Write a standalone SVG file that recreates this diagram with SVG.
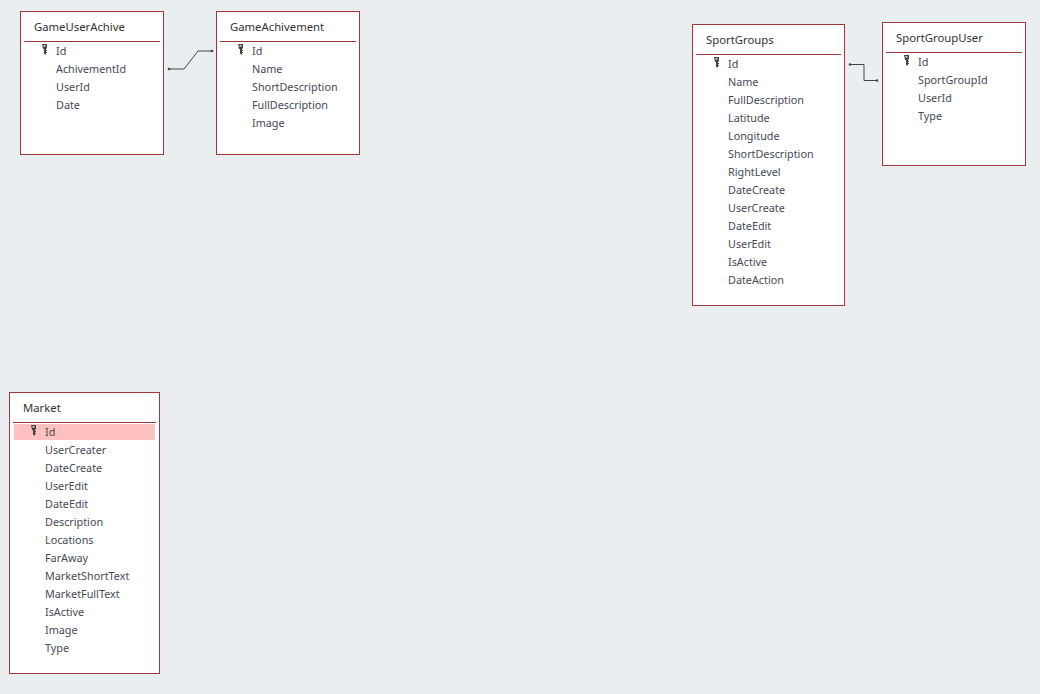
<svg xmlns="http://www.w3.org/2000/svg" width="1040" height="694" viewBox="0 0 1040 694">
<style>
.box{fill:#fff;stroke:#a4373a;stroke-width:1}
.sep{stroke:#a4373a;stroke-width:1;fill:none}
text{font-family:"Noto Sans","Open Sans","Liberation Sans",sans-serif;font-size:10.800px;fill:#444a55}
.title{font-size:11.300px;fill:#333}
.conn{fill:none;stroke:#444;stroke-width:1}
.dot{fill:#444}
</style>
<defs>
<g id="key"><path d="M-2.500 0h5v4.500h-1v1.500h1v1h-1v1h1v1h-1v1.500h-1l-1-1v-4.500h-1z" fill="#444"/><path d="M-1 1.200h2v1.300h-2z" fill="#fff"/></g>
</defs>
<rect width="1040" height="694" fill="#eaeef1"/>
<g id="connectors">
<path class="conn" d="M169 69H184L198 51H212"/><circle class="dot" cx="169" cy="69" r="1.300"/><circle class="dot" cx="212" cy="51" r="1.300"/>
<path class="conn" d="M850 64.500H864V80.500H877"/><circle class="dot" cx="850" cy="64.500" r="1.300"/><circle class="dot" cx="877" cy="80.500" r="1.300"/>
</g>
<g id="GameUserAchive">
<rect class="box" x="20.500" y="11.500" width="143" height="143"/><path class="sep" d="M24 41.500H160"/>
<text class="title" x="34" y="31">GameUserAchive</text>
<use href="#key" x="44.500" y="44"/>
<text x="56" y="55">Id</text><text x="56" y="73">AchivementId</text><text x="56" y="91">UserId</text><text x="56" y="109">Date</text>
</g>
<g id="GameAchivement">
<rect class="box" x="216.500" y="11.500" width="143" height="143"/><path class="sep" d="M220 41.500H356"/>
<text class="title" x="230" y="31">GameAchivement</text>
<use href="#key" x="240.500" y="44"/>
<text x="252" y="55">Id</text><text x="252" y="73">Name</text><text x="252" y="91">ShortDescription</text><text x="252" y="109">FullDescription</text><text x="252" y="127">Image</text>
</g>
<g id="SportGroups">
<rect class="box" x="692.500" y="24.500" width="152" height="281"/><path class="sep" d="M696 54.500H841"/>
<text class="title" x="706" y="44">SportGroups</text>
<use href="#key" x="716.500" y="57"/>
<text x="728" y="68">Id</text><text x="728" y="86">Name</text><text x="728" y="104">FullDescription</text><text x="728" y="122">Latitude</text><text x="728" y="140">Longitude</text><text x="728" y="158">ShortDescription</text><text x="728" y="176">RightLevel</text><text x="728" y="194">DateCreate</text><text x="728" y="212">UserCreate</text><text x="728" y="230">DateEdit</text><text x="728" y="248">UserEdit</text><text x="728" y="266">IsActive</text><text x="728" y="284">DateAction</text>
</g>
<g id="SportGroupUser">
<rect class="box" x="882.500" y="22.500" width="143" height="143"/><path class="sep" d="M886 52.500H1022"/>
<text class="title" x="896" y="42">SportGroupUser</text>
<use href="#key" x="906.500" y="55"/>
<text x="918" y="66">Id</text><text x="918" y="84">SportGroupId</text><text x="918" y="102">UserId</text><text x="918" y="120">Type</text>
</g>
<g id="Market">
<rect class="box" x="9.500" y="392.500" width="150" height="281"/><path class="sep" d="M13 422.500H156"/>
<rect x="14" y="424" width="141" height="16" fill="#ffc0c0"/>
<text class="title" x="23" y="412">Market</text>
<use href="#key" x="33.500" y="425"/>
<text x="45" y="436">Id</text><text x="45" y="454">UserCreater</text><text x="45" y="472">DateCreate</text><text x="45" y="490">UserEdit</text><text x="45" y="508">DateEdit</text><text x="45" y="526">Description</text><text x="45" y="544">Locations</text><text x="45" y="562">FarAway</text><text x="45" y="580">MarketShortText</text><text x="45" y="598">MarketFullText</text><text x="45" y="616">IsActive</text><text x="45" y="634">Image</text><text x="45" y="652">Type</text>
</g>
</svg>
